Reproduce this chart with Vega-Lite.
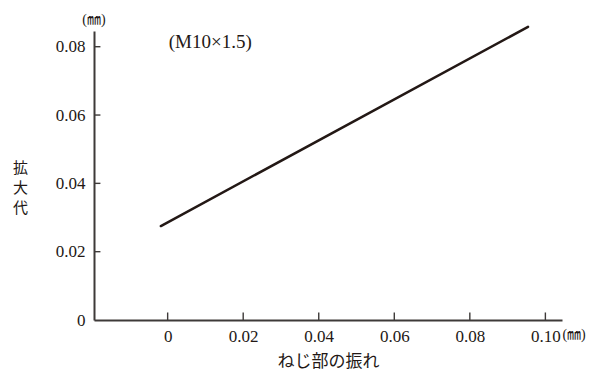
{
  "$schema": "https://vega.github.io/schema/vega-lite/v6.json",
  "autosize": "none",
  "width": 468,
  "height": 289,
  "padding": {"left": 94, "top": 31, "right": 45, "bottom": 53},
  "background": "white",
  "config": {
    "view": {"stroke": null},
    "font": "Liberation Serif, Noto Sans CJK JP",
    "axis": {"grid": false, "ticks": false, "domainColor": "#3e3a39", "domainWidth": 2, "labelColor": "#231815", "titleColor": "#231815", "labelFont": "Liberation Serif", "labelFontSize": 17, "titleFont": "Noto Sans CJK JP", "titleFontWeight": "normal", "titleFontSize": 16}
  },
  "datasets": {
    "line": [
      {"runout": -0.0018, "allowance": 0.0275},
      {"runout": 0.0954, "allowance": 0.0858}
    ],
    "xticks": [
      {"runout": 0, "lo": 0, "hi": 0.0022},
      {"runout": 0.02, "lo": 0, "hi": 0.0022},
      {"runout": 0.04, "lo": 0, "hi": 0.0022},
      {"runout": 0.06, "lo": 0, "hi": 0.0022},
      {"runout": 0.08, "lo": 0, "hi": 0.0022},
      {"runout": 0.1, "lo": 0, "hi": 0.0022}
    ],
    "yticks": [
      {"allowance": 0.02, "lo": -0.0195, "hi": -0.0178},
      {"allowance": 0.04, "lo": -0.0195, "hi": -0.0178},
      {"allowance": 0.06, "lo": -0.0195, "hi": -0.0178},
      {"allowance": 0.08, "lo": -0.0195, "hi": -0.0178}
    ],
    "notes": [
      {"runout": 0.0003, "allowance": 0.0814, "label": "(M10×1.5)"}
    ],
    "units": [
      {"runout": -0.0195, "allowance": 0.0878, "label": "(㎜)"},
      {"runout": 0.1076, "allowance": -0.0044, "label": "(㎜)"}
    ]
  },
  "layer": [
    {
      "data": {"name": "line"},
      "mark": {"type": "line", "color": "#231815", "strokeWidth": 2.5, "strokeCap": "round"},
      "encoding": {
        "x": {"field": "runout", "type": "quantitative", "scale": {"domain": [-0.0195, 0.1044], "nice": false, "zero": false},
          "axis": {"values": [0, 0.02, 0.04, 0.06, 0.08, 0.1], "labelExpr": "datum.value == 0 ? '0' : format(datum.value, '.2f')", "labelFont": "Liberation Serif", "labelPadding": 8, "title": "ねじ部の振れ", "titleFontSize": 17, "titleBaseline": "middle", "titleY": 41}},
        "y": {"field": "allowance", "type": "quantitative", "scale": {"domain": [0, 0.0846], "nice": false},
          "axis": {"values": [0, 0.02, 0.04, 0.06, 0.08], "labelExpr": "datum.value == 0 ? '0' : format(datum.value, '.2f')", "labelFont": "Liberation Serif", "labelPadding": 9, "title": ["拡", "大", "代"], "titleFontSize": 15, "titleAngle": 0, "titleAlign": "center", "titleBaseline": "middle", "titleLineHeight": 20, "titleX": -74, "titleY": 136}}
      }
    },
    {
      "data": {"name": "xticks"},
      "mark": {"type": "rule", "color": "#3e3a39", "strokeWidth": 1.4},
      "encoding": {
        "x": {"field": "runout", "type": "quantitative"},
        "y": {"field": "lo", "type": "quantitative"},
        "y2": {"field": "hi"}
      }
    },
    {
      "data": {"name": "yticks"},
      "mark": {"type": "rule", "color": "#3e3a39", "strokeWidth": 1.4},
      "encoding": {
        "y": {"field": "allowance", "type": "quantitative"},
        "x": {"field": "lo", "type": "quantitative"},
        "x2": {"field": "hi"}
      }
    },
    {
      "data": {"name": "notes"},
      "mark": {"type": "text", "align": "left", "baseline": "middle", "fontSize": 19, "font": "Liberation Serif", "color": "#231815"},
      "encoding": {
        "x": {"field": "runout", "type": "quantitative"},
        "y": {"field": "allowance", "type": "quantitative"},
        "text": {"field": "label"}
      }
    },
    {
      "data": {"name": "units"},
      "mark": {"type": "text", "align": "center", "baseline": "middle", "fontSize": 14, "color": "#231815"},
      "encoding": {
        "x": {"field": "runout", "type": "quantitative"},
        "y": {"field": "allowance", "type": "quantitative"},
        "text": {"field": "label"}
      }
    }
  ]
}
